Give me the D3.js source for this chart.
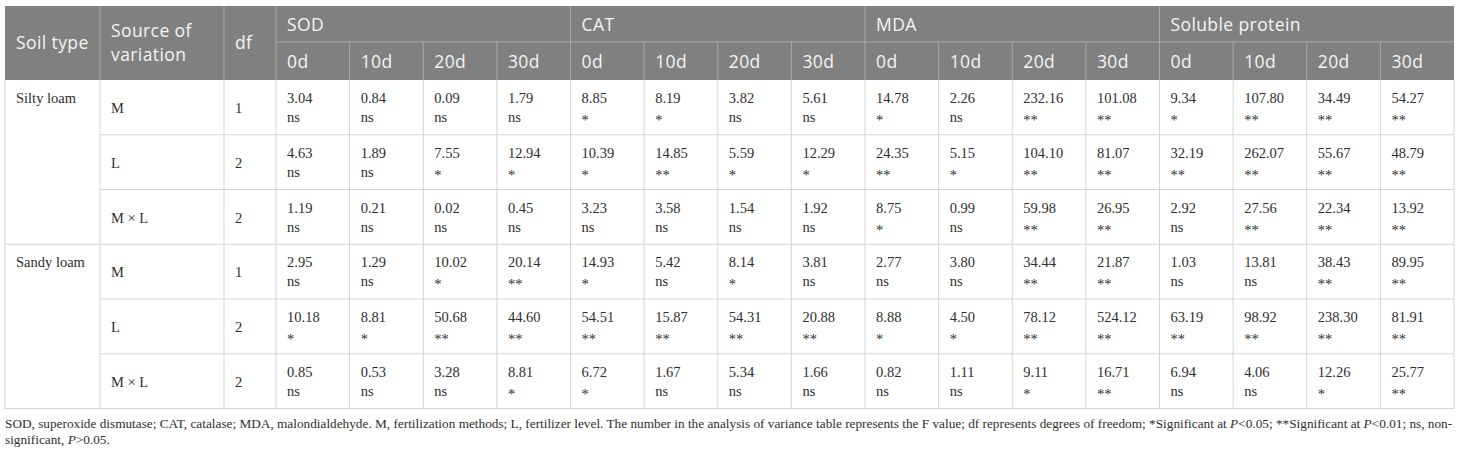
<!DOCTYPE html>
<html>
<head>
<meta charset="utf-8">
<script src="https://cdn.jsdelivr.net/npm/d3@7"></script>
<style>
  body { margin: 0; background: #fff; }
  .head { font-family: "Open Sans", sans-serif; font-size: 17.5px; letter-spacing: 0.4px; fill: #f4f4f4; }
  .cell { font-family: "Liberation Serif", serif; font-size: 14.5px; fill: #2e2e2e; }
  .note { font-family: "Liberation Serif", serif; font-size: 13px; fill: #2e2e2e; }
</style>
</head>
<body>
<svg id="canvas" width="1460" height="454"></svg>
<script>
// Table content
let soilTypes = ['Silty loam', 'Sandy loam'];
let sources = ['M', 'L', 'M × L'];
let dfs = [1, 2, 2];
let indices = ['SOD', 'CAT', 'MDA', 'Soluble protein'];
let days = ['0d', '10d', '20d', '30d'];

// F values, one row per soil type x source, 16 columns (index x day)
let fValues = [
    [3.04, 0.84, 0.09, 1.79, 8.85, 8.19, 3.82, 5.61, 14.78, 2.26, 232.16, 101.08, 9.34, 107.80, 34.49, 54.27],
    [4.63, 1.89, 7.55, 12.94, 10.39, 14.85, 5.59, 12.29, 24.35, 5.15, 104.10, 81.07, 32.19, 262.07, 55.67, 48.79],
    [1.19, 0.21, 0.02, 0.45, 3.23, 3.58, 1.54, 1.92, 8.75, 0.99, 59.98, 26.95, 2.92, 27.56, 22.34, 13.92],
    [2.95, 1.29, 10.02, 20.14, 14.93, 5.42, 8.14, 3.81, 2.77, 3.80, 34.44, 21.87, 1.03, 13.81, 38.43, 89.95],
    [10.18, 8.81, 50.68, 44.60, 54.51, 15.87, 54.31, 20.88, 8.88, 4.50, 78.12, 524.12, 63.19, 98.92, 238.30, 81.91],
    [0.85, 0.53, 3.28, 8.81, 6.72, 1.67, 5.34, 1.66, 0.82, 1.11, 9.11, 16.71, 6.94, 4.06, 12.26, 25.77]
];

// Significance marks matching fValues
let signif = [
    ['ns', 'ns', 'ns', 'ns', '*', '*', 'ns', 'ns', '*', 'ns', '**', '**', '*', '**', '**', '**'],
    ['ns', 'ns', '*', '*', '*', '**', '*', '*', '**', '*', '**', '**', '**', '**', '**', '**'],
    ['ns', 'ns', 'ns', 'ns', 'ns', 'ns', 'ns', 'ns', '*', 'ns', '**', '**', 'ns', '**', '**', '**'],
    ['ns', 'ns', '*', '**', '*', 'ns', '*', 'ns', 'ns', 'ns', '**', '**', 'ns', 'ns', '**', '**'],
    ['*', '*', '**', '**', '**', '**', '**', '**', '*', '*', '**', '**', '**', '**', '**', '**'],
    ['ns', 'ns', 'ns', '*', '*', 'ns', 'ns', 'ns', 'ns', 'ns', '*', '**', 'ns', 'ns', '*', '**']
];

let footLine1 = 'SOD, superoxide dismutase; CAT, catalase; MDA, malondialdehyde. M, fertilization methods; L, fertilizer level. The number in the analysis of variance table represents the F value; df represents degrees of freedom; *Significant at ';

let canvas = d3.select('#canvas');

// Layout
let left = 5, right = 1454;
let colSource = 100, colDf = 224, colData = 276;
let headTop = 6, headMid = 42, headBottom = 80, tableBottom = 408.5;
let nCols = indices.length * days.length;

let x = d3.scaleLinear().domain([0, nCols]).range([colData, right]);
let y = d3.scaleLinear().domain([0, fValues.length]).range([headBottom, tableBottom]);

let bodyLine = '#d3d3d3';
let headLine = '#a9a9a9';

// Header background
canvas.append('rect')
    .attr('x', left).attr('y', headTop)
    .attr('width', right - left).attr('height', headBottom - headTop)
    .attr('fill', '#808080');

// Header lines
canvas.append('line')
    .attr('x1', colData).attr('x2', right).attr('y1', headMid).attr('y2', headMid)
    .attr('stroke', headLine);
[colSource, colDf, colData].forEach((xv) => {
    canvas.append('line')
        .attr('x1', xv).attr('x2', xv).attr('y1', headTop).attr('y2', headBottom)
        .attr('stroke', headLine);
});
d3.range(1, nCols).forEach((i) => {
    canvas.append('line')
        .attr('x1', x(i)).attr('x2', x(i))
        .attr('y1', i % days.length === 0 ? headTop : headMid).attr('y2', headBottom)
        .attr('stroke', headLine);
});

// Header text
canvas.append('text').attr('class', 'head').attr('x', 16).attr('y', 49).text('Soil type');
canvas.append('text').attr('class', 'head').attr('x', 111).attr('y', 37).text('Source of');
canvas.append('text').attr('class', 'head').attr('x', 111).attr('y', 61).text('variation');
canvas.append('text').attr('class', 'head').attr('x', 235).attr('y', 49).text('df');

canvas.selectAll('text.group')
    .data(indices)
    .enter()
    .append('text')
    .attr('class', 'head group')
    .attr('x', (d, i) => x(i * days.length) + 11)
    .attr('y', 31)
    .text((d) => d);

canvas.selectAll('text.day')
    .data(d3.range(nCols))
    .enter()
    .append('text')
    .attr('class', 'head day')
    .attr('x', (d) => x(d) + 11)
    .attr('y', 68)
    .text((d) => days[d % days.length]);

// Body grid
canvas.append('line')
    .attr('x1', left).attr('x2', left).attr('y1', headBottom).attr('y2', tableBottom)
    .attr('stroke', bodyLine);
[colSource, colDf, ...d3.range(0, nCols + 1).map((i) => x(i))].forEach((xv) => {
    canvas.append('line')
        .attr('x1', xv).attr('x2', xv).attr('y1', headBottom).attr('y2', tableBottom)
        .attr('stroke', bodyLine);
});
d3.range(1, fValues.length + 1).forEach((r) => {
    let groupEnd = r % sources.length === 0;
    canvas.append('line')
        .attr('x1', groupEnd ? left : colSource).attr('x2', right)
        .attr('y1', y(r)).attr('y2', y(r))
        .attr('stroke', bodyLine);
});

// Soil type labels
canvas.selectAll('text.soil')
    .data(soilTypes)
    .enter()
    .append('text')
    .attr('class', 'cell soil')
    .attr('x', 16)
    .attr('y', (d, i) => y(i * sources.length) + 23)
    .text((d) => d);

// Source and df labels
fValues.forEach((row, r) => {
    let s = r % sources.length;
    canvas.append('text').attr('class', 'cell')
        .attr('x', 111).attr('y', y(r) + 33).text(sources[s]);
    canvas.append('text').attr('class', 'cell')
        .attr('x', 235).attr('y', y(r) + 33).text(dfs[s]);
});

// Values
let rows = canvas.selectAll('g.row')
    .data(fValues)
    .enter()
    .append('g')
    .attr('class', 'row')
    .attr('transform', (d, r) => `translate(0,${y(r)})`);

rows.selectAll('text.val')
    .data((d) => d)
    .enter()
    .append('text')
    .attr('class', 'cell val')
    .attr('x', (d, i) => x(i) + 11)
    .attr('y', 23)
    .text((d) => d.toFixed(2));

rows.selectAll('text.sig')
    .data((d, r) => signif[r])
    .enter()
    .append('text')
    .attr('class', 'cell sig')
    .attr('x', (d, i) => x(i) + 11)
    .attr('y', (d) => d === 'ns' ? 42 : 45)
    .text((d) => d);

// Footnote
let note1 = canvas.append('text').attr('class', 'note').attr('x', left).attr('y', 428);
note1.append('tspan').text(footLine1);
note1.append('tspan').attr('font-style', 'italic').text('P');
note1.append('tspan').text('<0.05; **Significant at ');
note1.append('tspan').attr('font-style', 'italic').text('P');
note1.append('tspan').text('<0.01; ns, non-');

// Fit first line to the table width
let len = note1.node().getComputedTextLength();
let noteSize = 13 * (right - left) / len;
note1.style('font-size', noteSize + 'px');

let note2 = canvas.append('text').attr('class', 'note').attr('x', left).attr('y', 444)
    .style('font-size', noteSize + 'px');
note2.append('tspan').text('significant, ');
note2.append('tspan').attr('font-style', 'italic').text('P');
note2.append('tspan').text('>0.05.');
</script>
</body>
</html>
